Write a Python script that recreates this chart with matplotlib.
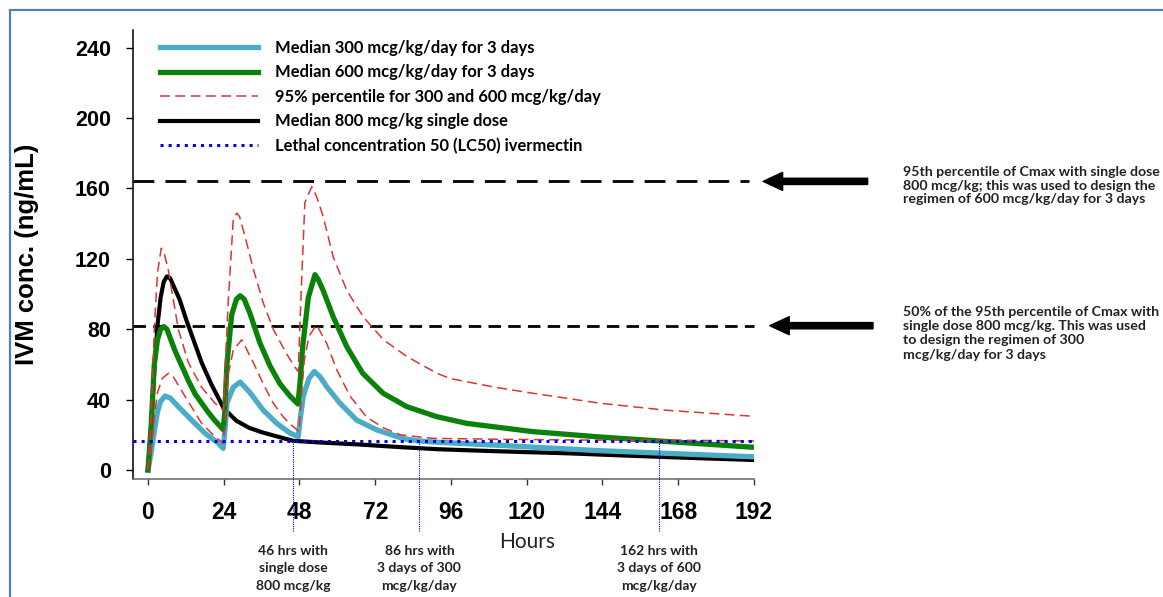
import matplotlib
matplotlib.use("Agg")
import matplotlib.pyplot as plt
from matplotlib.lines import Line2D

# --- data (hours, ng/mL) ---
t_800 = [0, 1, 2, 3, 4, 5, 6, 7, 8, 10, 12, 14, 17, 20, 24, 28, 32, 36, 40, 46,
         55, 66, 80, 92, 110, 133, 150, 170, 192]
c_800 = [0, 25, 57, 82, 98, 107, 110, 109, 105, 97, 86, 76, 61, 49, 35, 28, 24, 21.5, 19.5, 16.6,
         15.6, 14.6, 13, 11.8, 10.7, 9.5, 8.3, 7.0, 5.7]

t_600 = [0, 1, 2, 3, 4, 5, 6, 8.5, 11, 13, 15, 17, 19, 21, 23.8, 24.3, 25, 26.5, 28, 29.2,
         30.5, 32.3, 35.5, 38.7, 41.8, 45, 47.5, 48.2, 49, 50.8, 52.9, 54, 55.5, 58.7, 63, 68,
         74.5, 82, 91.5, 101, 122, 143, 162, 192]
c_600 = [0, 25, 60, 74, 80, 81.5, 80, 68, 58, 50, 43, 38, 33, 28.5, 23, 32, 60, 88, 97, 99,
         97, 89, 72, 59, 49, 42, 37.5, 50, 70, 98, 111, 108, 102, 87, 70, 55,
         43.6, 36, 30.3, 26.5, 21.8, 18.8, 16.5, 12.9]

t_300 = [0, 1, 2, 3, 4, 5.4, 7, 9.6, 13.8, 18, 22.3, 23.8, 24.5, 25, 27, 29.2, 32.3, 36.5,
         40.8, 45, 47.6, 48.3, 49.2, 51, 52.7, 54.5, 56.6, 60.8, 66.1, 72.5, 81, 86, 91.5,
         111.5, 143, 164, 192]
c_300 = [0, 10, 22, 33, 39, 42, 41, 36, 28.4, 21, 15.2, 12.3, 25, 38, 47, 50, 44, 34,
         26.5, 21, 19, 30, 42, 52, 56, 53, 47.4, 38, 28.4, 22.8, 17.8, 16.5, 15.8,
         14.0, 11, 9.5, 7.5]

t_p95_600 = [0, 1, 2, 3, 4.2, 5, 6.4, 8, 9.6, 12.8, 17, 21.2, 23.9, 24.5, 25.4, 27, 28.1, 29,
             30.7, 33.4, 36.5, 39.7, 43.9, 47.1, 47.6, 48.5, 49.7, 51.9, 53.5, 55.5, 58.7, 63,
             68.2, 74.6, 82, 91.5, 95.7, 110, 122, 143, 164, 192]
c_p95_600 = [0, 30, 80, 112, 126, 124, 114, 97, 80, 61, 47, 38, 34, 60, 95, 142, 146, 144,
             133, 114, 95, 80, 66, 57, 56, 100, 152, 161, 155, 144, 121, 102,
             87, 74, 64.5, 55, 52, 47, 43.6, 38, 34, 30.5]

t_p95_300 = [0, 1, 2, 3, 4.5, 6.5, 8, 11.7, 17, 21.2, 23.9, 24.5, 25.5, 27, 29.7, 33.4, 36.5,
             39.7, 42.9, 46, 47.8, 48.5, 49.5, 51, 53.4, 56.6, 59.8, 64, 69.3, 74.6, 80, 90,
             110, 140, 165, 192]
c_p95_300 = [0, 12, 30, 44, 52, 55, 53, 42, 26.5, 19, 15.2, 30, 55, 68, 74, 61, 49,
             38, 30, 24.6, 22, 40, 62, 76, 82.5, 72, 57, 42, 30, 24, 20, 18,
             17.5, 17, 17, 16.5]

lc50 = 16.5
cmax_95 = 164
cmax_half = 82
cross_hours = [46, 86, 162]
cross_notes = ["46 hrs with\nsingle dose\n800 mcg/kg",
               "86 hrs with\n3 days of 300\nmcg/kg/day",
               "162 hrs with\n3 days of 600\nmcg/kg/day"]
x_ticks = [0, 24, 48, 72, 96, 120, 144, 168, 192]
y_ticks = [0, 40, 80, 120, 160, 200, 240]

W, H = 1163, 597
fig = plt.figure(figsize=(W / 100, H / 100), dpi=100)
ax = fig.add_axes([133 / W, 1 - 479 / H, (754 - 133) / W, (479 - 30) / H])
ax.set_xlim(-4.75, 192)
ax.set_ylim(-5.1, 250)

ax.plot(t_800, c_800, color="black", lw=3, label="Median 800 mcg/kg single dose", zorder=3)
ax.plot(t_300, c_300, color="#4BACC6", lw=3.8, label="Median 300 mcg/kg/day for 3 days", zorder=4)
ax.plot(t_600, c_600, color="#0A820A", lw=3.8, label="Median 600 mcg/kg/day for 3 days", zorder=4)
ax.plot(t_p95_600, c_p95_600, color="#DD3333", lw=1.1, dashes=(6.5, 3.5),
        label="95% percentile for 300 and 600 mcg/kg/day", zorder=5)
ax.plot(t_p95_300, c_p95_300, color="#DD3333", lw=1.1, dashes=(6.5, 3.5), zorder=5)
ax.plot([-4.75, 192], [lc50, lc50], color="#0000EE", lw=2.2, ls=":",
        label="Lethal concentration 50 (LC50) ivermectin", zorder=6)

# reference Cmax lines
ax.plot([-4.75, 190.5], [cmax_95, cmax_95], color="black", lw=2, dashes=(7.5, 4), clip_on=False)
ax.plot([-4.75, 192], [cmax_half, cmax_half], color="black", lw=2, dashes=(4.5, 2.6), clip_on=False)
arrow = dict(arrowstyle="simple,head_length=1.4,head_width=1.3,tail_width=0.45",
             mutation_scale=10, color="black", shrinkA=0, shrinkB=0)
ax.annotate("", xy=(194.9, cmax_95), xytext=(228, cmax_95), arrowprops=arrow, annotation_clip=False)
ax.annotate("", xy=(197, cmax_half), xytext=(229.7, cmax_half), arrowprops=arrow, annotation_clip=False)

# LC50 crossing markers
for h, note in zip(cross_hours, cross_notes):
    ax.plot([h, h], [lc50, -35], color="#0000EE", lw=0.8, ls=(0, (1, 1)), clip_on=False, zorder=6)
    ax.text(h, -42.5, note, ha="center", va="top", fontsize=10, fontweight="bold",
            family="Lato", linespacing=1.55, color="#222222")

# axes styling
for s in ["top", "right"]:
    ax.spines[s].set_visible(False)
ax.spines["left"].set_linewidth(1.1)
ax.spines["bottom"].set_color("#666666")
ax.spines["bottom"].set_linewidth(1.1)
ax.set_xticks(x_ticks)
ax.set_yticks(y_ticks)
ax.tick_params(axis="y", length=5, width=1, pad=11)
ax.tick_params(axis="x", length=4.5, width=1, pad=11, color="#333333")
for lab in ax.get_xticklabels():
    lab.set_fontfamily("Liberation Sans")
    lab.set_fontweight("bold")
    lab.set_fontsize(16.5)
for lab in ax.get_yticklabels():
    lab.set_fontfamily("Liberation Sans")
    lab.set_fontweight("bold")
    lab.set_fontsize(15.5)

fig.text(27 / W, 1 - 254 / H, "IVM conc. (ng/mL)", rotation=90, ha="center", va="center",
         fontsize=18.5, fontweight="bold", family="Liberation Sans")
fig.text(527 / W, 1 - 542 / H, "Hours", ha="center", va="center", fontsize=15, family="Lato",
         color="#222222")

handles, labels = ax.get_legend_handles_labels()
order = [1, 2, 3, 0, 4]
ax.legend([handles[i] for i in order], [labels[i] for i in order],
          loc="upper left", bbox_to_anchor=(160 / W, 1 - 40 / H), bbox_transform=fig.transFigure,
          frameon=False, handlelength=5.9, handletextpad=1.05, borderpad=0, borderaxespad=0,
          labelspacing=0.51, prop={"family": "Lato", "weight": "bold", "size": 11.9})

note_kw = dict(fontsize=10.2, fontweight="bold", family="Lato", va="top", ha="left",
               color="#222222")
fig.text(903 / W, 1 - 166 / H,
         "95th percentile of Cmax with single dose\n800 mcg/kg; this was used to design the\n"
         "regimen of 600 mcg/kg/day for 3 days", linespacing=1.17, **note_kw)
fig.text(903 / W, 1 - 306 / H,
         "50% of the 95th percentile of Cmax with\nsingle dose 800 mcg/kg. This was used\n"
         "to design the regimen of 300\nmcg/kg/day for 3 days", linespacing=1.22, **note_kw)

# blue frame of the slide box
frame = "#4F81BD"
fig.add_artist(Line2D([10 / W, 10 / W], [0, 1 - 9.5 / H], transform=fig.transFigure, color=frame, lw=1.6))
fig.add_artist(Line2D([10 / W, 1], [1 - 9.5 / H, 1 - 9.5 / H], transform=fig.transFigure, color=frame, lw=1.6))

fig.savefig("out.png", dpi=100)
